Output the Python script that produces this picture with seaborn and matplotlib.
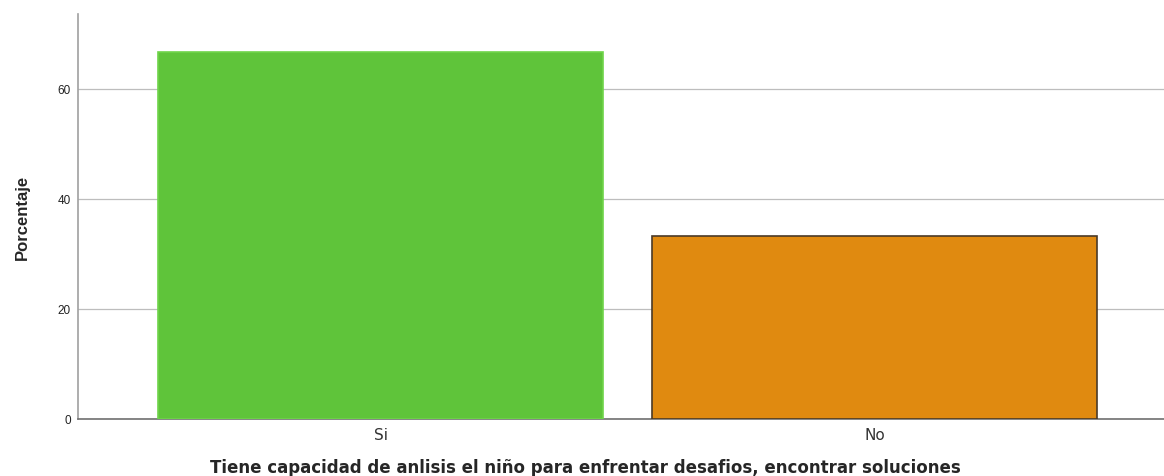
import matplotlib
matplotlib.use("Agg")
import matplotlib.pyplot as plt
import seaborn as sns
import pandas as pd

# Data
categories = ["Si", "No"]
percentages = [66.67, 33.33]
bar_colors = ["#5fc43a", "#e08a10"]
edge_colors = ["#6fd44a", "#4a3a28"]

data = pd.DataFrame({"Respuesta": categories, "Porcentaje": percentages})

sns.set_style("white")
plt.rcParams["font.family"] = ["Liberation Sans", "DejaVu Sans"]

fig = plt.figure(figsize=(11.64, 4.77), dpi=100)
ax = fig.add_axes([0.067, 0.1195, 0.933, 0.849])

sns.barplot(data=data, x="Respuesta", y="Porcentaje", hue="Respuesta",
            palette=bar_colors, saturation=1, width=0.9, legend=False,
            ax=ax, zorder=3)
for patch, ec in zip(ax.patches, edge_colors):
    patch.set_edgecolor(ec)
    patch.set_linewidth(1.2)

ax.set_xlim(-0.612, 1.585)
ax.set_ylim(0, 73.6)
ax.set_yticks([0, 20, 40, 60])
ax.yaxis.grid(True, color="#bdbdbd", linewidth=0.9, zorder=0)
ax.set_axisbelow(True)

for side in ["top", "right"]:
    ax.spines[side].set_visible(False)
ax.spines["left"].set_color("#a0a0a0")
ax.spines["left"].set_linewidth(1.2)
ax.spines["bottom"].set_color("#707070")
ax.spines["bottom"].set_linewidth(1.2)

ax.tick_params(axis="y", length=0, pad=5, labelsize=8.5, labelcolor="#222222")
ax.tick_params(axis="x", length=0, pad=6, labelsize=11, labelcolor="#333333")
for lbl in ax.get_xticklabels():
    lbl.set_family(["DejaVu Sans"])

ax.set_xlabel("Tiene capacidad de anlisis el niño para enfrentar desafios, encontrar soluciones",
              fontsize=12, fontweight="bold", family=["DejaVu Sans"])
ax.xaxis.set_label_coords(0.467, -0.097)
ax.set_ylabel("Porcentaje", fontsize=12, fontweight="bold", labelpad=20,
              family=["Liberation Sans Narrow", "Liberation Sans", "DejaVu Sans"])

fig.savefig("out.png", dpi=100)
